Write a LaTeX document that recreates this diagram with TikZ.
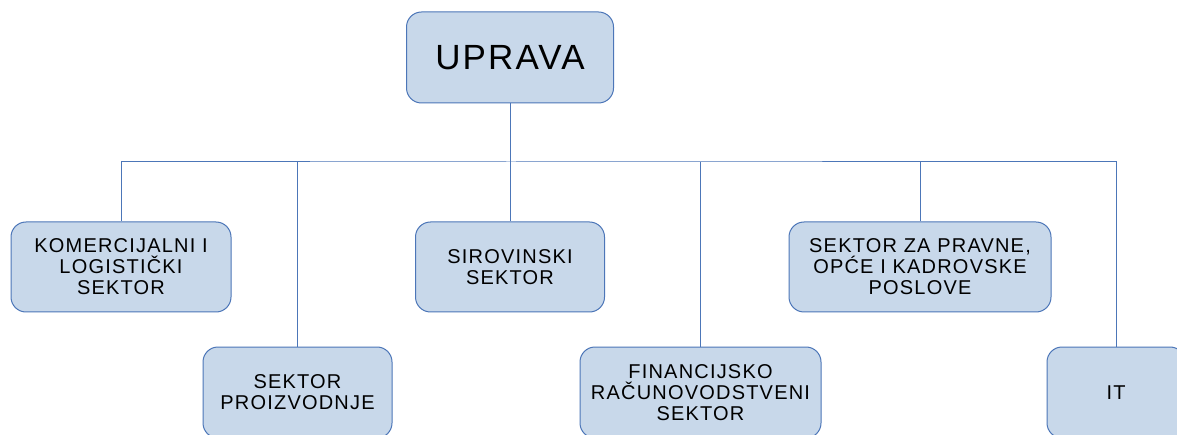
\documentclass[tikz,border=0pt]{standalone}
\usepackage{fontspec}
\setmainfont{Liberation Sans}
\newfontfamily\boxfont[LetterSpace=6]{Liberation Sans}
\usetikzlibrary{calc,positioning}
\definecolor{boxfill}{RGB}{200,216,234}
\definecolor{boxline}{RGB}{76,118,184}
\tikzset{
  unit/.style={draw=boxline,fill=boxfill,line width=1pt,rounded corners=15pt,
    align=center,inner sep=0pt,
    font=\boxfont\fontsize{20}{21}\selectfont},
  link/.style={draw=boxline,line width=1pt}}

\begin{document}
\begin{tikzpicture}[x=1pt,y=-1pt]
\fill[white] (0,0) rectangle (1177,435);
\clip (0,0) rectangle (1177,435);
\node[unit,minimum width=207pt,minimum height=91pt,
  font=\boxfont\fontsize{35}{36}\selectfont] (uprava) at (510,57.5) {UPRAVA};
\node[unit,minimum width=220pt,minimum height=90pt] (komerc) at (121,267)
  {KOMERCIJALNI I\\LOGISTIČKI\\SEKTOR};
\node[unit,minimum width=189pt,minimum height=90pt] (sirov) at (510,267)
  {SIROVINSKI\\SEKTOR};
\node[unit,minimum width=262pt,minimum height=90pt] (pravne) at (920,267)
  {SEKTOR ZA PRAVNE,\\OPĆE I KADROVSKE\\POSLOVE};
\node[unit,minimum width=189pt,minimum height=91pt] (proizv) at (297.5,392.5)
  {SEKTOR\\PROIZVODNJE};
\node[unit,minimum width=241pt,minimum height=91pt] (financ) at (700.5,392.5)
  {FINANCIJSKO\\RAČUNOVODSTVENI\\SEKTOR};
\node[unit,minimum width=138pt,minimum height=91pt] (it) at (1116,392.5) {IT};
\coordinate (bus) at (510,162);
\draw[link] (uprava) -- (bus);
\draw[link] (komerc.north) |- (bus) -| (it.north);
\foreach \n in {proizv,sirov,financ,pravne}
  \draw[link] (\n.north) -- (\n.north |- bus);
\end{tikzpicture}
\end{document}
